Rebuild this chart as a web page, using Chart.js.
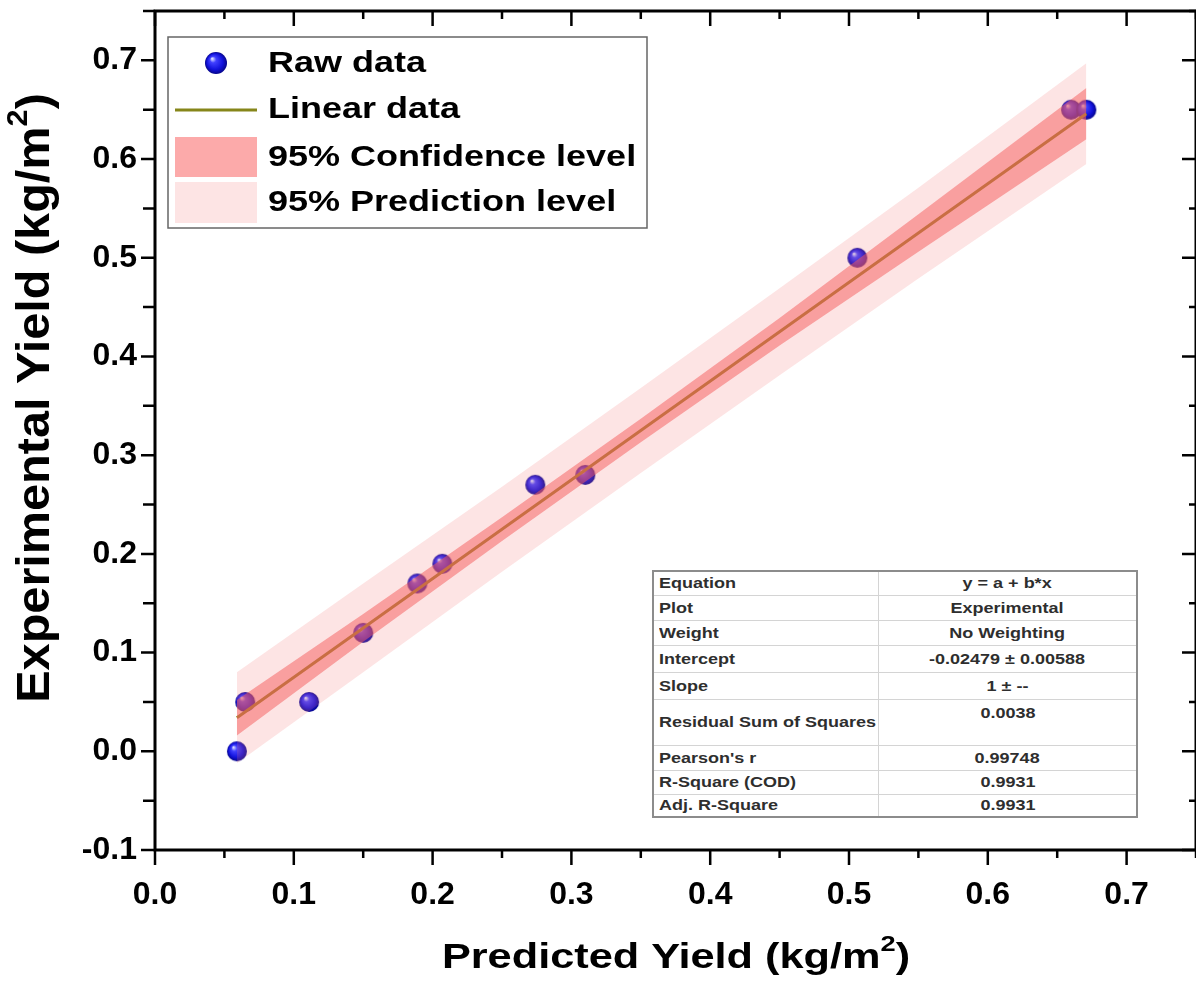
<!DOCTYPE html>
<html>
<head>
<meta charset="utf-8">
<title>Predicted vs Experimental Yield</title>
<script src="https://cdn.jsdelivr.net/npm/chart.js@4.4.1/dist/chart.umd.min.js"></script>
<style>
  html, body { margin: 0; padding: 0; background: #fff; overflow: hidden; }
  #wrap { position: relative; width: 1207px; height: 995px; }
  #yieldChart { position: absolute; left: 0; top: 0; }
  #fitTable {
    position: absolute; left: 652px; top: 570px; width: 486px;
    border-collapse: collapse; border: 2px solid #8c8c8c;
    font: bold 15px "Liberation Sans", Arial, sans-serif; color: #2e2e2e;
    background: #fff;
  }
  #fitTable td { border-top: 1px solid #d4d4d4; padding: 0 5px; line-height: 16px; white-space: nowrap; }
  #fitTable td:first-child { width: 214px; border-right: 1px solid #d4d4d4; }
  #fitTable td:last-child { text-align: center; }
  #fitTable td.top { vertical-align: top; padding-top: 5px; }
  /* bredare text i tabellen */
  #fitTable span { display: inline-block; transform: scaleX(1.2); transform-origin: left center; }
  #fitTable td:last-child span { transform-origin: center center; }
</style>
</head>
<body>
<div id="wrap">
  <canvas id="yieldChart" width="1207" height="995"></canvas>
  <table id="fitTable">
    <tr style="height:24px"><td><span>Equation</span></td><td><span>y = a + b*x</span></td></tr>
    <tr style="height:25px"><td><span>Plot</span></td><td><span>Experimental</span></td></tr>
    <tr style="height:25px"><td><span>Weight</span></td><td><span>No Weighting</span></td></tr>
    <tr style="height:27px"><td><span>Intercept</span></td><td><span>-0.02479 ± 0.00588</span></td></tr>
    <tr style="height:27px"><td><span>Slope</span></td><td><span>1 ± --</span></td></tr>
    <tr style="height:46px"><td><span>Residual Sum of Squares</span></td><td class="top"><span>0.0038</span></td></tr>
    <tr style="height:25px"><td><span>Pearson's r</span></td><td><span>0.99748</span></td></tr>
    <tr style="height:24px"><td><span>R-Square (COD)</span></td><td><span>0.9931</span></td></tr>
    <tr style="height:23px"><td><span>Adj. R-Square</span></td><td><span>0.9931</span></td></tr>
  </table>
</div>
<script>
// mätpunkter: predikterad vs experimentell avkastning
const predX = [0.059, 0.065, 0.111, 0.150, 0.189, 0.207, 0.274, 0.310, 0.506, 0.660, 0.671];
const expY  = [0.000, 0.050, 0.050, 0.120, 0.170, 0.190, 0.270, 0.280, 0.500, 0.650, 0.650];

// anpassad linje (y = -0.02479 + 1*x) och 95 %-band
const bandX    = [0.059, 0.150, 0.250, 0.350, 0.450, 0.550, 0.671];
const fitY     = [0.034, 0.125, 0.225, 0.325, 0.425, 0.525, 0.646];
const confLow  = [0.016, 0.111, 0.213, 0.313, 0.411, 0.506, 0.620];
const confHigh = [0.052, 0.139, 0.237, 0.337, 0.439, 0.544, 0.672];
const predLow  = [-0.012, 0.080, 0.182, 0.282, 0.381, 0.479, 0.595];
const predHigh = [0.080, 0.170, 0.268, 0.368, 0.469, 0.571, 0.697];

const legendLabels = ['Raw data', 'Linear data', '95% Confidence level', '95% Prediction level'];

const FONT = '"Liberation Sans", Arial, sans-serif';
const LINE_COLOR = '#86861a';
const CONF_COLOR = 'rgba(245, 90, 90, 0.5)';
const PRED_COLOR = 'rgba(245, 120, 120, 0.2)';

/**
 * Ritar en blå "kula" som används som punktsymbol
 * @param {number} r - radie i pixlar
 */
function makeBall(r) {
    const c = document.createElement('canvas');
    c.width = c.height = r * 2 + 2;
    const g = c.getContext('2d');
    const cx = r + 1, cy = r + 1;
    const grad = g.createRadialGradient(cx - r * 0.35, cy - r * 0.4, r * 0.05, cx, cy, r);
    grad.addColorStop(0, '#d8dcff');
    grad.addColorStop(0.25, '#4040ff');
    grad.addColorStop(0.7, '#1212dc');
    grad.addColorStop(1, '#06068a');
    g.fillStyle = grad;
    g.beginPath();
    g.arc(cx, cy, r, 0, Math.PI * 2);
    g.fill();
    return c;
}

const ball = makeBall(10);
const legendBall = makeBall(11);

const pairs = (xs, ys) => xs.map((x, i) => ({ x, y: ys[i] }));
const isMajor = v => Math.round(v * 100) % 10 === 0;
const tickText = v => isMajor(v) ? (Math.round(v * 10) / 10 + 0).toFixed(1) : '';

/**
 * Skriver text med upphöjd tvåa, centrerad kring (0, 0), utdragen sx gånger i textriktningen
 */
function drawSupTitle(ctx, before, sup, after, size, sx) {
    const main = `bold ${size}px ${FONT}`;
    const small = `bold ${Math.round(size * 0.62)}px ${FONT}`;
    ctx.save();
    ctx.scale(sx, 1);
    ctx.font = main;
    const w1 = ctx.measureText(before).width;
    const w3 = ctx.measureText(after).width;
    ctx.font = small;
    const w2 = ctx.measureText(sup).width;
    let x = -(w1 + w2 + w3) / 2;
    ctx.textBaseline = 'middle';
    ctx.textAlign = 'left';
    ctx.fillStyle = '#000';
    ctx.font = main;
    ctx.fillText(before, x, 0);
    x += w1;
    ctx.font = small;
    ctx.fillText(sup, x, -size * 0.36);
    x += w2;
    ctx.font = main;
    ctx.fillText(after, x, 0);
    ctx.restore();
}

// ram, skalstreck, axeltitlar och förklaring
const framePlugin = {
    id: 'frame',
    afterDraw(chart) {
        const { ctx, chartArea: a, scales } = chart;
        ctx.save();
        ctx.strokeStyle = '#000';
        ctx.lineWidth = 3;
        ctx.strokeRect(a.left, a.top, a.right - a.left, a.bottom - a.top);

        ctx.lineWidth = 2.5;
        ctx.beginPath();
        scales.x.ticks.forEach(t => {
            const px = scales.x.getPixelForValue(t.value);
            const major = isMajor(t.value);
            ctx.moveTo(px, a.bottom);
            ctx.lineTo(px, a.bottom + (major ? 15 : 8));
            ctx.moveTo(px, a.top);
            ctx.lineTo(px, a.top + (major ? 15 : 8));
        });
        scales.y.ticks.forEach(t => {
            const py = scales.y.getPixelForValue(t.value);
            const major = isMajor(t.value);
            ctx.moveTo(a.left, py);
            ctx.lineTo(a.left - (major ? 14 : 12), py);
            ctx.moveTo(a.right, py);
            ctx.lineTo(a.right - (major ? 14 : 7), py);
        });
        ctx.stroke();

        // axeltitlar
        ctx.save();
        ctx.translate(676, 958);
        drawSupTitle(ctx, 'Predicted Yield (kg/m', '2', ')', 35, 1.237);
        ctx.restore();
        ctx.save();
        ctx.translate(36, 398);
        ctx.rotate(-Math.PI / 2);
        drawSupTitle(ctx, 'Experimental Yield (kg/m', '2', ')', 46, 1.057);
        ctx.restore();

        // förklaring
        const lx = 168, ly = 37, lw = 479, lh = 191;
        ctx.fillStyle = '#fff';
        ctx.fillRect(lx, ly, lw, lh);
        ctx.strokeStyle = '#666';
        ctx.lineWidth = 1.5;
        ctx.strokeRect(lx, ly, lw, lh);

        ctx.drawImage(legendBall, 216 - 12, 63 - 12);
        ctx.strokeStyle = LINE_COLOR;
        ctx.lineWidth = 3;
        ctx.beginPath();
        ctx.moveTo(175, 110);
        ctx.lineTo(257, 110);
        ctx.stroke();
        ctx.fillStyle = '#fcaaaa';
        ctx.fillRect(175, 137, 82, 40);
        ctx.fillStyle = '#fde4e4';
        ctx.fillRect(175, 182, 82, 41);

        ctx.fillStyle = '#000';
        ctx.font = `bold 30px ${FONT}`;
        ctx.textAlign = 'left';
        ctx.textBaseline = 'middle';
        [64, 110, 158, 203].forEach((y, i) => {
            ctx.save();
            ctx.translate(268, y);
            ctx.scale(1.2, 1);
            ctx.fillText(legendLabels[i], 0, 0);
            ctx.restore();
        });
        ctx.restore();
    }
};

// tar bort skalornas extra kantutrymme så att ritytan får fasta mått
function fixBox(scale) {
    scale.paddingLeft = scale.paddingRight = scale.paddingTop = scale.paddingBottom = 0;
}

new Chart(document.getElementById('yieldChart'), {
    type: 'scatter',
    data: {
        datasets: [
            {
                type: 'line', label: legendLabels[3], data: pairs(bandX, predHigh),
                borderColor: 'transparent', backgroundColor: PRED_COLOR,
                pointRadius: 0, fill: '+1', order: 2
            },
            {
                type: 'line', label: 'pred low', data: pairs(bandX, predLow),
                borderColor: 'transparent', pointRadius: 0, fill: false, order: 2
            },
            {
                type: 'line', label: legendLabels[2], data: pairs(bandX, confHigh),
                borderColor: 'transparent', backgroundColor: CONF_COLOR,
                pointRadius: 0, fill: '+1', order: 1
            },
            {
                type: 'line', label: 'conf low', data: pairs(bandX, confLow),
                borderColor: 'transparent', pointRadius: 0, fill: false, order: 1
            },
            {
                type: 'line', label: legendLabels[1], data: pairs(bandX, fitY),
                borderColor: LINE_COLOR, borderWidth: 3, pointRadius: 0, fill: false, order: 3
            },
            {
                label: legendLabels[0], data: pairs(predX, expY),
                pointStyle: ball, pointRadius: 10, order: 4
            }
        ]
    },
    options: {
        responsive: false,
        animation: false,
        events: [],
        layout: { padding: { top: 10, right: 3, left: 0, bottom: 0 } },
        plugins: { legend: { display: false }, tooltip: { enabled: false } },
        scales: {
            x: {
                type: 'linear', min: 0, max: 0.75,
                grid: { display: false, drawTicks: false }, border: { display: false },
                ticks: {
                    stepSize: 0.05, autoSkip: false, maxRotation: 0, padding: 26,
                    color: '#000', font: { family: FONT, size: 32, weight: 'bold' },
                    callback: tickText
                },
                afterFit(scale) { scale.height = 145; fixBox(scale); }
            },
            y: {
                type: 'linear', min: -0.1, max: 0.75,
                grid: { display: false, drawTicks: false }, border: { display: false },
                ticks: {
                    stepSize: 0.05, autoSkip: false, padding: 18,
                    color: '#000', font: { family: FONT, size: 32, weight: 'bold' },
                    callback: tickText
                },
                afterFit(scale) { scale.width = 155; fixBox(scale); }
            }
        }
    },
    plugins: [framePlugin]
});
</script>
</body>
</html>
